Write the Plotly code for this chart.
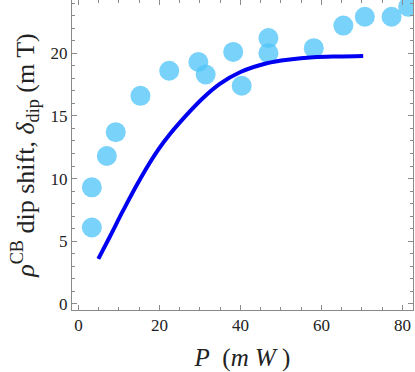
import plotly.graph_objects as go

# measured points
p_data = [3.3, 3.3, 7.0, 9.2, 15.3, 22.4, 29.6, 31.4, 38.2, 40.3, 46.9, 46.9, 58.1, 65.4, 70.7, 77.3, 81.4]
shift_data = [6.1, 9.3, 11.8, 13.7, 16.6, 18.6, 19.3, 18.3, 20.1, 17.4, 21.2, 20.0, 20.4, 22.2, 22.9, 22.9, 23.7]

# model curve
p_fit = [4.9, 7.8, 11.1, 15.2, 19.7, 22.6, 27.5, 30.5, 34.9, 40.0, 46.5, 52.2, 58.0, 64.0, 70.3]
shift_fit = [3.6, 5.4, 7.5, 9.95, 12.3, 13.55, 15.35, 16.35, 17.55, 18.5, 19.2, 19.5, 19.67, 19.74, 19.78]

serif = "Liberation Serif"

fig = go.Figure()
fig.add_trace(go.Scatter(
    x=p_data, y=shift_data, mode="markers",
    marker=dict(size=20, color="rgb(82,197,249)", opacity=0.78, line=dict(width=0)),
))
fig.add_trace(go.Scatter(
    x=p_fit, y=shift_fit, mode="lines",
    line=dict(color="rgb(0,0,240)", width=4, shape="spline", smoothing=1.0),
))

axis_style = dict(
    showgrid=False, zeroline=False, showline=True, linecolor="#8a8a8a", linewidth=1,
    mirror="ticks", ticks="inside", ticklen=5, tickcolor="#8a8a8a",
    tickfont=dict(family=serif, size=17, color="#222"),
)

fig.update_layout(
    width=415, height=372,
    margin=dict(l=72, r=2, t=0, b=62),
    paper_bgcolor="white", plot_bgcolor="white",
    showlegend=False,
    xaxis=dict(
        range=[-1.6, 82.6], tickvals=[0, 20, 40, 60, 80],
        minor=dict(dtick=5, tick0=0, ticks="inside", ticklen=3, tickcolor="#8a8a8a"),
        title=dict(text="<i>P</i>  (<i>m W</i> )", font=dict(family=serif, size=25, color="#222"), standoff=14),
        **axis_style,
    ),
    yaxis=dict(
        range=[-0.48, 24.24], tickvals=[0, 5, 10, 15, 20],
        minor=dict(dtick=1, tick0=0, ticks="inside", ticklen=3, tickcolor="#8a8a8a"),
        title=dict(text="<i>ρ</i><sup>CB</sup> dip shift, <i>δ</i><sub>dip</sub> (m T)",
                   font=dict(family=serif, size=26, color="#222"), standoff=8),
        **axis_style,
    ),
)

# page has a default 8px body margin; drop it so the figure sits at the corner
fig.write_html("out.html", config={"displayModeBar": False},
               post_script="document.body.style.margin='0';document.body.style.overflow='hidden';")
